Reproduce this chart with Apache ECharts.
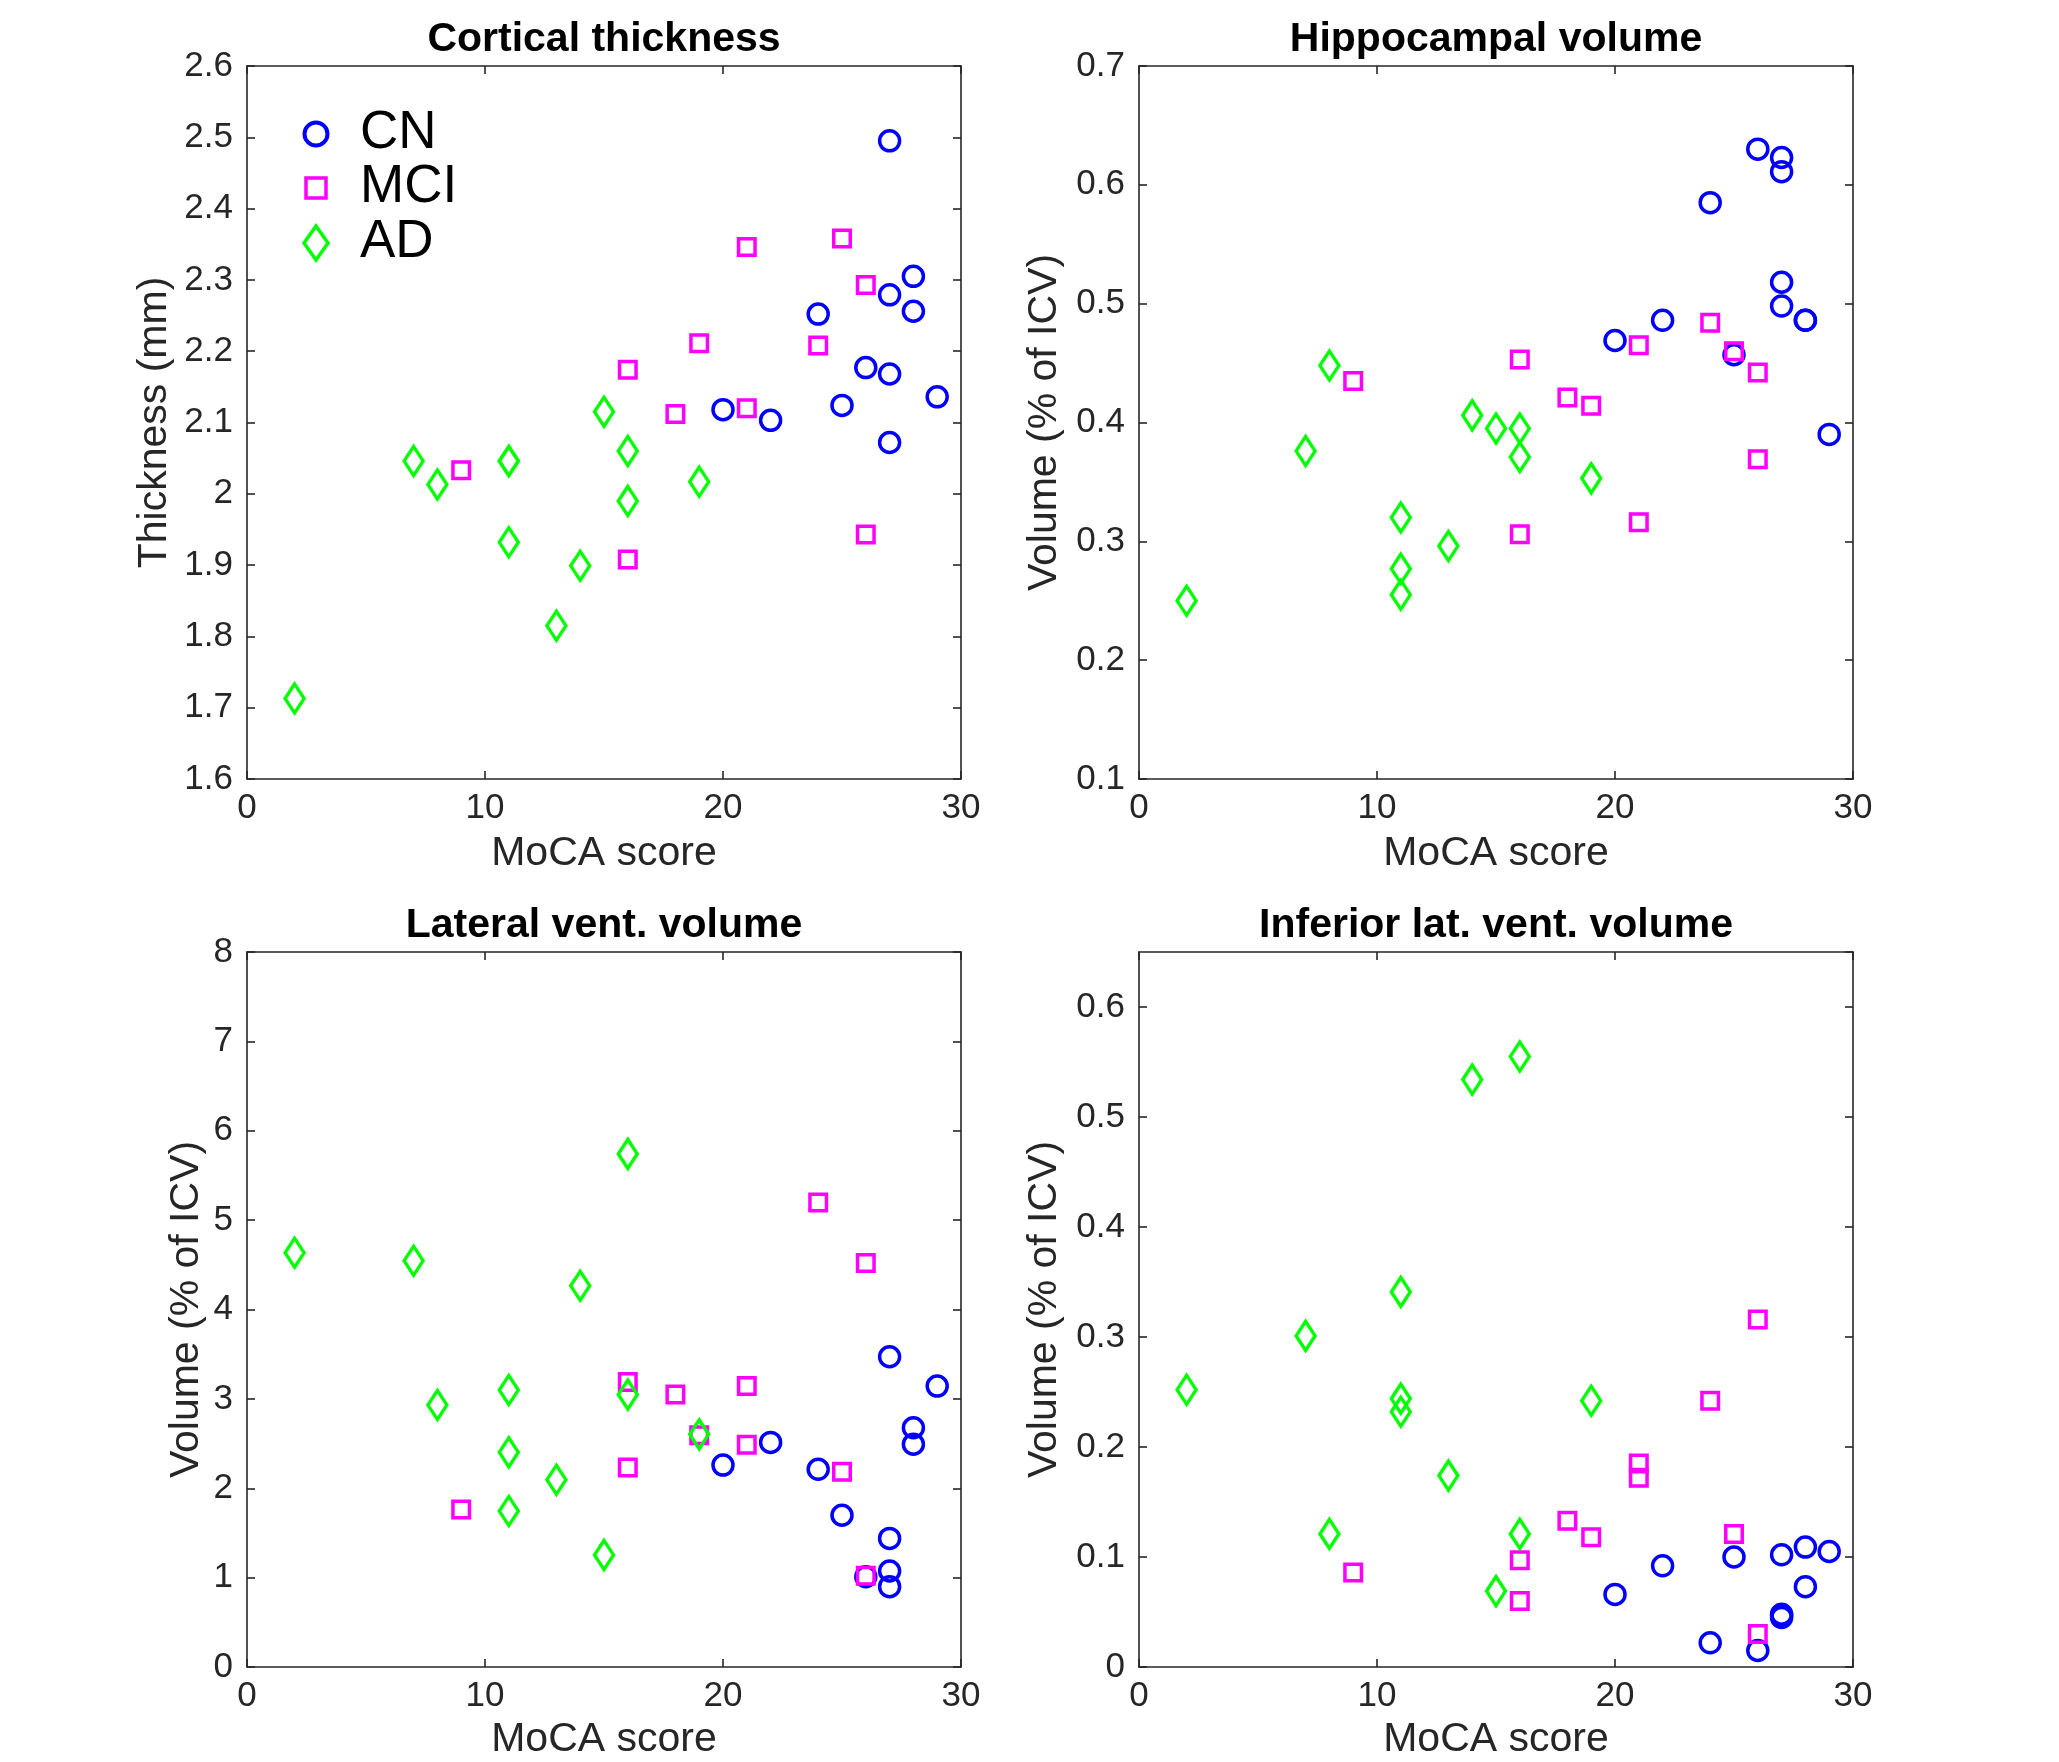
<!DOCTYPE html>
<html>
<head>
<meta charset="utf-8">
<script src="https://cdn.jsdelivr.net/npm/echarts@6/dist/echarts.min.js"></script>
<style>
html,body{margin:0;padding:0;background:#fff;}
#chart{width:2059px;height:1762px;}
</style>
</head>
<body>
<div id="chart"></div>
<script>
// ---------------- DATA ----------------
const groupNames = ['CN', 'MCI', 'AD'];
const panelTitles = ['Cortical thickness', 'Hippocampal volume', 'Lateral vent. volume', 'Inferior lat. vent. volume'];
const xAxisName = 'MoCA score';
const yAxisNames = ['Thickness (mm)', 'Volume (% of ICV)', 'Volume (% of ICV)', 'Volume (% of ICV)'];

// Cortical thickness [MoCA, mm]
const thickCN  = [[27,2.495],[28,2.305],[27,2.279],[28,2.256],[24,2.252],[26,2.177],[27,2.168],[29,2.136],[20,2.118],[22,2.103],[25,2.124],[27,2.072]];
const thickMCI = [[21,2.346],[25,2.358],[26,2.293],[19,2.211],[24,2.208],[16,2.174],[18,2.112],[21,2.120],[9,2.033],[26,1.943],[16,1.908]];
const thickAD  = [[15,2.115],[7,2.046],[8,2.013],[11,2.046],[11,2.046],[16,2.060],[16,1.990],[19,2.017],[11,1.932],[14,1.899],[13,1.815],[2,1.713]];

// Hippocampal volume [MoCA, % of ICV]
const hippoCN  = [[26,0.630],[27,0.623],[27,0.611],[24,0.585],[27,0.518],[27,0.498],[28,0.486],[28,0.486],[22,0.486],[20,0.469],[25,0.457],[29,0.390]];
const hippoMCI = [[24,0.484],[21,0.465],[16,0.453],[25,0.460],[26,0.442],[9,0.435],[18,0.421],[19,0.414],[26,0.369],[21,0.316],[16,0.306]];
const hippoAD  = [[8,0.448],[7,0.376],[14,0.406],[15,0.395],[16,0.395],[16,0.371],[19,0.353],[11,0.320],[13,0.296],[11,0.277],[11,0.255],[2,0.250]];

// Lateral ventricle volume [MoCA, % of ICV]
const latCN  = [[27,3.471],[29,3.143],[28,2.677],[28,2.492],[22,2.513],[20,2.259],[24,2.212],[25,1.698],[27,1.439],[27,1.074],[27,0.899],[26,1.010]];
const latMCI = [[24,5.196],[26,4.519],[16,3.190],[18,3.048],[21,3.143],[19,2.593],[21,2.487],[16,2.233],[25,2.185],[9,1.762],[26,1.020]];
const latAD  = [[2,4.635],[7,4.545],[16,5.741],[14,4.265],[8,2.931],[11,3.100],[16,3.048],[19,2.603],[11,2.402],[13,2.095],[11,1.746],[15,1.254]];

// Inferior lateral ventricle volume [MoCA, % of ICV]
const infCN  = [[25,0.100],[27,0.102],[28,0.109],[29,0.105],[22,0.092],[20,0.066],[28,0.073],[27,0.048],[27,0.045],[27,0.047],[24,0.022],[26,0.015]];
const infMCI = [[26,0.316],[24,0.242],[21,0.185],[21,0.172],[18,0.133],[19,0.118],[25,0.121],[16,0.097],[9,0.086],[16,0.060],[26,0.030]];
const infAD  = [[16,0.555],[14,0.534],[11,0.341],[7,0.301],[2,0.252],[11,0.244],[11,0.232],[19,0.242],[13,0.174],[8,0.121],[16,0.121],[15,0.069]];

// Axis ranges
const xRange = {min: 0, max: 30, interval: 10};
const yRanges = [
  {min: 1.6, max: 2.6, interval: 0.1},
  {min: 0.1, max: 0.7, interval: 0.1},
  {min: 0, max: 8, interval: 1},
  {min: 0, max: 0.65, interval: 0.1}
];

const panelData = [
  [thickCN, thickMCI, thickAD],
  [hippoCN, hippoMCI, hippoAD],
  [latCN, latMCI, latAD],
  [infCN, infMCI, infAD]
];

// ---------------- STYLE / LAYOUT ----------------
const FONT = '"Liberation Sans", Arial, Helvetica, sans-serif';
const AXC = '#262626';
const groupColors = ['#0000ff', '#ff00ff', '#00ff00'];
const groupSymbols = ['circle', 'rect', 'diamond'];
const groupSizes = [20, 16.5, [19, 29]];

const grids = [
  {left: 247, top: 66, width: 714, height: 713},
  {left: 1139, top: 66, width: 714, height: 713},
  {left: 247, top: 952, width: 714, height: 715},
  {left: 1139, top: 952, width: 714, height: 715}
];
const yNameGaps = [72, 74, 40, 74];
const xNameGaps = [54, 54, 52, 52];

const lineStyle = {color: AXC, width: 1.6};

const xAxes = [], yAxes = [], series = [], graphics = [];
grids.forEach((g, i) => {
  xAxes.push({
    gridIndex: i, type: 'value', position: 'bottom',
    min: xRange.min, max: xRange.max, interval: xRange.interval,
    axisLine: {show: true, onZero: false, lineStyle},
    axisTick: {show: true, inside: true, length: 8, lineStyle},
    axisLabel: {show: true, fontSize: 35, color: AXC, fontFamily: FONT, margin: 12},
    splitLine: {show: false},
    name: xAxisName, nameLocation: 'middle', nameGap: xNameGaps[i],
    nameTextStyle: {fontSize: 41, color: AXC, fontFamily: FONT}
  });
  xAxes.push({
    gridIndex: i, type: 'value', position: 'top',
    min: xRange.min, max: xRange.max, interval: xRange.interval,
    axisLine: {show: true, onZero: false, lineStyle},
    axisTick: {show: true, inside: true, length: 8, lineStyle},
    axisLabel: {show: false},
    splitLine: {show: false}
  });
  const yr = yRanges[i];
  yAxes.push({
    gridIndex: i, type: 'value', position: 'left',
    min: yr.min, max: yr.max, interval: yr.interval,
    axisLine: {show: true, onZero: false, lineStyle},
    axisTick: {show: true, inside: true, length: 8, lineStyle},
    axisLabel: {show: true, fontSize: 35, color: AXC, fontFamily: FONT, margin: 14,
                showMaxLabel: (i === 3) ? false : true},
    splitLine: {show: false},
    name: yAxisNames[i], nameLocation: 'middle', nameGap: yNameGaps[i],
    nameTextStyle: {fontSize: 41, color: AXC, fontFamily: FONT}
  });
  yAxes.push({
    gridIndex: i, type: 'value', position: 'right',
    min: yr.min, max: yr.max, interval: yr.interval,
    axisLine: {show: true, onZero: false, lineStyle},
    axisTick: {show: true, inside: true, length: 8, lineStyle},
    axisLabel: {show: false},
    splitLine: {show: false}
  });
  panelData[i].forEach((d, k) => {
    series.push({
      name: groupNames[k], type: 'scatter',
      xAxisIndex: 2 * i, yAxisIndex: 2 * i,
      data: d,
      symbol: groupSymbols[k], symbolSize: groupSizes[k],
      itemStyle: {color: 'rgba(0,0,0,0)', borderColor: groupColors[k], borderWidth: 3.5, opacity: 1},
      emphasis: {disabled: true},
      z: 2 + k
    });
  });
  // panel title
  graphics.push({
    type: 'text',
    style: {
      text: panelTitles[i],
      x: g.left + g.width / 2, y: g.top - 26,
      font: 'bold 41px ' + FONT, fill: '#000',
      textAlign: 'center', textVerticalAlign: 'middle',
      align: 'center', verticalAlign: 'middle'
    }
  });
});

// legend (first panel)
const legX = 316, legTextX = 360;
const legRowsY = [134, 188, 243];
graphics.push({type: 'circle', shape: {cx: legX, cy: legRowsY[0], r: 11.5}, style: {fill: 'none', stroke: groupColors[0], lineWidth: 4}});
graphics.push({type: 'rect', shape: {x: legX - 10, y: legRowsY[1] - 10, width: 20, height: 20}, style: {fill: 'none', stroke: groupColors[1], lineWidth: 3.5}});
graphics.push({type: 'polygon', shape: {points: [[legX, legRowsY[2] - 17], [legX + 12, legRowsY[2]], [legX, legRowsY[2] + 17], [legX - 12, legRowsY[2]]]}, style: {fill: 'none', stroke: groupColors[2], lineWidth: 3.5}});
groupNames.forEach((n, k) => {
  graphics.push({
    type: 'text',
    style: {
      text: n, x: legTextX, y: legRowsY[k] - 1,
      font: '53px ' + FONT, fill: '#000',
      textAlign: 'left', textVerticalAlign: 'middle',
      align: 'left', verticalAlign: 'middle'
    }
  });
});

const chart = echarts.init(document.getElementById('chart'), null, {renderer: 'canvas'});
chart.setOption({
  animation: false,
  backgroundColor: '#ffffff',
  grid: grids.map(g => Object.assign({show: false, containLabel: false}, g)),
  xAxis: xAxes,
  yAxis: yAxes,
  series: series,
  graphic: graphics
});
</script>
</body>
</html>
